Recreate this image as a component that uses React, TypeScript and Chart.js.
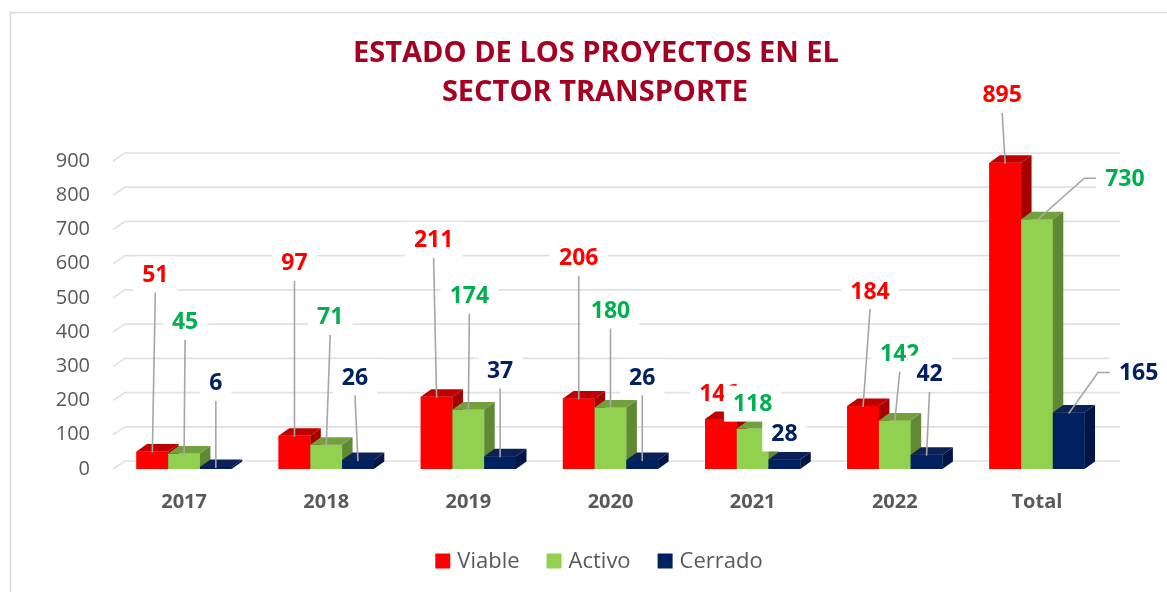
import React, { useEffect, useRef } from 'react';
import { Chart, registerables } from 'chart.js';

Chart.register(...registerables);

const categories = ['2017', '2018', '2019', '2020', '2021', '2022', 'Total'];
const viable = [51, 97, 211, 206, 146, 184, 895];
const activo = [45, 71, 174, 180, 118, 142, 730];
const cerrado = [6, 26, 37, 26, 28, 42, 165];
const seriesNames = ['Viable', 'Activo', 'Cerrado'];
const titleLines = ['ESTADO DE LOS PROYECTOS EN EL', 'SECTOR TRANSPORTE'];
const yMin = 0;
const yMax = 900;
const yStep = 100;

// callout label offsets (px) from the top-centre of each bar: [dx, dy]
const viableLabelOffsets = [[3, -177], [0, -173], [-3, -157], [0, -141], [-2, -26], [7, -115], [-3, -68]];
const activoLabelOffsets = [[1, -132], [4, -128], [1, -114], [0, -97], [0, -25], [5, -67], [88, -41]];
const cerradoLabelOffsets = [[0, -84], [-3, -83], [0, -86], [0, -83], [0, -26], [3, -81], [70, -40]];

const frontColors = ['#FF0000', '#92D050', '#002060'];
const topColors = ['#C00000', '#72A03C', '#0B2158'];
const sideColors = ['#A40000', '#5F8A33', '#001645'];
const labelColors = ['#FF0000', '#00B050', '#002060'];

const FONT = "'Open Sans', 'DejaVu Sans', sans-serif";
const BAR_DX = 10.5;
const BAR_DY = -7.5;
const WALL_DX = 12;
const WALL_DY = -8;

const seriesValues = [viable, activo, cerrado];
const seriesOffsets = [viableLabelOffsets, activoLabelOffsets, cerradoLabelOffsets];

const decorPlugin = {
  id: 'decor3d',
  beforeDatasetsDraw(chart: any) {
    const { ctx, chartArea, scales } = chart;
    const y = scales.y;
    ctx.save();
    ctx.strokeStyle = '#E1E1E1';
    ctx.lineWidth = 1.7;
    y.ticks.forEach((t: any) => {
      const py = y.getPixelForValue(t.value);
      ctx.beginPath();
      ctx.moveTo(chartArea.left, py);
      ctx.lineTo(chartArea.left + WALL_DX, py + WALL_DY);
      ctx.lineTo(chartArea.right + WALL_DX, py + WALL_DY);
      ctx.stroke();
    });
    ctx.restore();
  },
  afterDatasetsDraw(chart: any) {
    const { ctx } = chart;
    const metas = [0, 1, 2].map((i) => chart.getDatasetMeta(i));
    ctx.save();
    for (let c = 0; c < categories.length; c++) {
      for (let s = 0; s < 3; s++) {
        const el: any = metas[s].data[c];
        const { x, y, base, width } = el.getProps(['x', 'y', 'base', 'width'], true);
        const l = x - width / 2;
        const r = x + width / 2;
        ctx.fillStyle = frontColors[s];
        ctx.fillRect(l, y, width, base - y);
        ctx.fillStyle = topColors[s];
        ctx.beginPath();
        ctx.moveTo(l, y);
        ctx.lineTo(l + BAR_DX, y + BAR_DY);
        ctx.lineTo(r + BAR_DX, y + BAR_DY);
        ctx.lineTo(r, y);
        ctx.closePath();
        ctx.fill();
        ctx.fillStyle = sideColors[s];
        ctx.beginPath();
        ctx.moveTo(r, y);
        ctx.lineTo(r + BAR_DX, y + BAR_DY);
        ctx.lineTo(r + BAR_DX, base + BAR_DY);
        ctx.lineTo(r, base);
        ctx.closePath();
        ctx.fill();
      }
    }
    ctx.font = `bold 23px ${FONT}`;
    ctx.textAlign = 'center';
    ctx.textBaseline = 'middle';
    for (let c = 0; c < categories.length; c++) {
      for (let s = 0; s < 3; s++) {
        const el: any = metas[s].data[c];
        const { x, y } = el.getProps(['x', 'y'], true);
        const [ox, oy] = seriesOffsets[s][c];
        const text = String(seriesValues[s][c]);
        const cx = x + ox;
        const cy = y + oy;
        const tw = ctx.measureText(text).width;
        const bw = tw + 18;
        const bh = 36;
        const bl = cx - bw / 2;
        const bt = cy - bh / 2;
        ctx.strokeStyle = '#A6A6A6';
        ctx.lineWidth = 1.6;
        if (Math.abs(ox) > 30) {
          ctx.beginPath();
          ctx.moveTo(x, y + 1);
          ctx.lineTo(bl - 12, cy);
          ctx.lineTo(bl, cy);
          ctx.stroke();
        } else if (y - (bt + bh) > 10) {
          ctx.beginPath();
          ctx.moveTo(x, y + 1);
          ctx.lineTo(cx, bt + bh);
          ctx.stroke();
        }
        ctx.fillStyle = '#FFFFFF';
        ctx.fillRect(bl, bt, bw, bh);
        ctx.fillStyle = labelColors[s];
        ctx.fillText(text, cx, cy + 1);
      }
    }
    ctx.restore();
  },
  afterDraw(chart: any) {
    const { ctx, width } = chart;
    ctx.save();
    ctx.strokeStyle = '#D9D9D9';
    ctx.lineWidth = 1.5;
    ctx.strokeRect(10.5, 12.5, width + 20, 620);
    ctx.fillStyle = '#A50021';
    ctx.font = `bold 29px ${FONT}`;
    ctx.textAlign = 'center';
    ctx.textBaseline = 'middle';
    ctx.fillText(titleLines[0], 596, 54);
    ctx.fillText(titleLines[1], 595, 93);
    ctx.font = `22px ${FONT}`;
    const box = 15;
    const gapText = 7;
    const gapItem = 27;
    const widths = seriesNames.map((n) => box + gapText + ctx.measureText(n).width);
    const total = widths.reduce((a, b) => a + b, 0) + gapItem * (seriesNames.length - 1);
    let lx = 599 - total / 2;
    const ly = 561;
    ctx.textAlign = 'left';
    seriesNames.forEach((n, i) => {
      ctx.fillStyle = frontColors[i];
      ctx.fillRect(lx, ly - box / 2, box, box);
      ctx.fillStyle = '#595959';
      ctx.fillText(n, lx + box + gapText, ly + 1);
      lx += widths[i] + gapItem;
    });
    ctx.restore();
  },
};

export default function App() {
  const ref = useRef<HTMLCanvasElement>(null);
  useEffect(() => {
    const canvas = ref.current;
    if (!canvas) return;
    const chart = new Chart(canvas, {
      type: 'bar',
      data: {
        labels: categories,
        datasets: seriesNames.map((name, i) => ({
          label: name,
          data: seriesValues[i],
          backgroundColor: frontColors[i],
          categoryPercentage: 0.67,
          barPercentage: 1.0,
        })),
      },
      options: {
        animation: false,
        responsive: true,
        maintainAspectRatio: false,
        layout: { padding: { top: 161, right: 59, left: 0, bottom: 0 } },
        plugins: {
          legend: { display: false },
          title: { display: false },
          tooltip: { enabled: false },
        },
        scales: {
          x: {
            grid: { display: false, drawTicks: false },
            border: { display: false },
            ticks: {
              color: '#595959',
              font: { family: FONT, size: 20, weight: 'bold' },
              padding: 21,
            },
            afterFit(scale: any) {
              scale.height = 123;
            },
          },
          y: {
            min: yMin,
            max: yMax,
            grid: { display: false, drawTicks: false },
            border: { display: false },
            ticks: {
              stepSize: yStep,
              color: '#595959',
              font: { family: FONT, size: 20 },
              padding: 23,
            },
            afterFit(scale: any) {
              scale.width = 113;
            },
          },
        },
      },
      plugins: [decorPlugin],
    } as any);
    return () => chart.destroy();
  }, []);
  return (
    <div style={{ position: 'fixed', left: 0, top: 0, width: 1167, height: 592, background: '#FFFFFF' }}>
      <canvas ref={ref} />
    </div>
  );
}
